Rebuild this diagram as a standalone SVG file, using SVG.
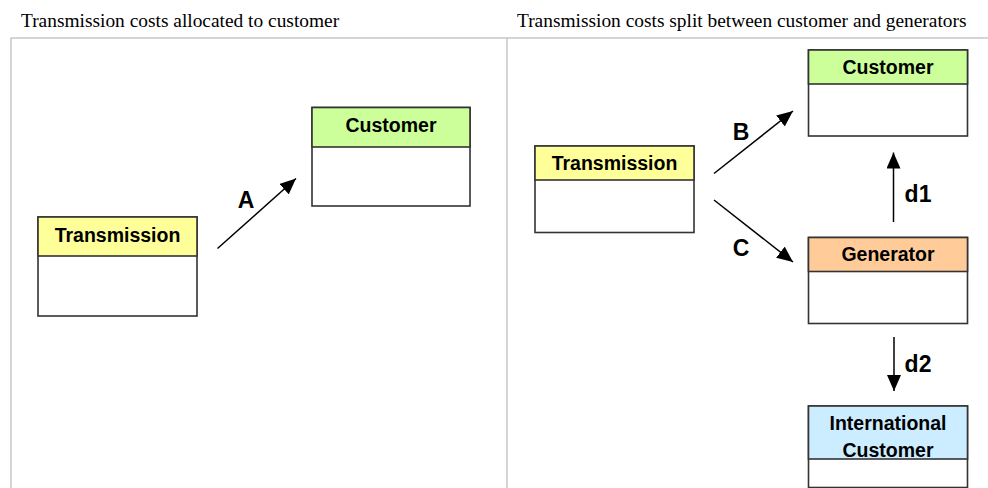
<svg xmlns="http://www.w3.org/2000/svg" width="988" height="488" viewBox="0 0 988 488">
<defs>
<marker id="arr" markerUnits="userSpaceOnUse" markerWidth="16" markerHeight="14" viewBox="0 0 16 14" refX="16" refY="7" orient="auto">
<path d="M0,0 L16,7 L0,14 Z" fill="#000"/>
</marker>
</defs>
<style>
.cap{font-family:"Liberation Serif","Times New Roman",serif;font-size:19.4px;fill:#000}
.box{fill:#fff;stroke:#333;stroke-width:1.6}
.hd{stroke:#333;stroke-width:1.6}
.t{font-family:"Liberation Sans",Arial,sans-serif;font-size:19.5px;font-weight:bold;fill:#000;text-anchor:middle}
.lbl{font-family:"Liberation Sans",Arial,sans-serif;font-size:23px;font-weight:bold;fill:#000;text-anchor:middle}
.c{stroke:#000;stroke-width:1.5;fill:none;marker-end:url(#arr)}
.frame{stroke:#c8c8c8;stroke-width:1.5;fill:none}
</style>
<rect width="988" height="488" fill="#fff"/>
<text class="cap" x="21" y="27">Transmission costs allocated to customer</text>
<text class="cap" x="517" y="27">Transmission costs split between customer and generators</text>
<path class="frame" d="M11,488 V38 H988 M507,38 V488"/>

<g id="left-transmission">
<rect class="box" x="38" y="217" width="159" height="99"/>
<rect class="hd" x="38" y="217" width="159" height="39" fill="#FFFF99"/>
<text class="t" x="117.5" y="242">Transmission</text>
</g>
<g id="left-customer">
<rect class="box" x="312" y="107.5" width="158" height="98.5"/>
<rect class="hd" x="312" y="107.5" width="158" height="39.5" fill="#CCFF99"/>
<text class="t" x="391" y="132">Customer</text>
</g>
<g id="right-transmission">
<rect class="box" x="535" y="146" width="159" height="86.5"/>
<rect class="hd" x="535" y="146" width="159" height="34" fill="#FFFF99"/>
<text class="t" x="614.5" y="170">Transmission</text>
</g>
<g id="right-customer">
<rect class="box" x="808.5" y="50" width="159" height="86"/>
<rect class="hd" x="808.5" y="50" width="159" height="34" fill="#CCFF99"/>
<text class="t" x="888" y="74">Customer</text>
</g>
<g id="generator">
<rect class="box" x="808.5" y="237.5" width="159" height="86"/>
<rect class="hd" x="808.5" y="237.5" width="159" height="34" fill="#FFCC99"/>
<text class="t" x="888" y="261">Generator</text>
</g>
<g id="international-customer">
<rect class="box" x="808.5" y="406" width="159" height="81.5"/>
<rect class="hd" x="808.5" y="406" width="159" height="53" fill="#CCECFF"/>
<text class="t" x="888" y="430">International</text>
<text class="t" x="888" y="457">Customer</text>
</g>

<g id="connectors">
<line class="c" x1="217.5" y1="248.5" x2="296" y2="178.5"/>
<line class="c" x1="714" y1="173.5" x2="793" y2="111"/>
<line class="c" x1="714" y1="200" x2="793" y2="262"/>
<line class="c" x1="893.5" y1="222" x2="893.5" y2="152.5"/>
<line class="c" x1="894" y1="337" x2="894" y2="391"/>
<text class="lbl" x="246" y="208">A</text>
<text class="lbl" x="741" y="140">B</text>
<text class="lbl" x="741" y="256">C</text>
<text class="lbl" x="918" y="202">d1</text>
<text class="lbl" x="918" y="372">d2</text>
</g>
</svg>
